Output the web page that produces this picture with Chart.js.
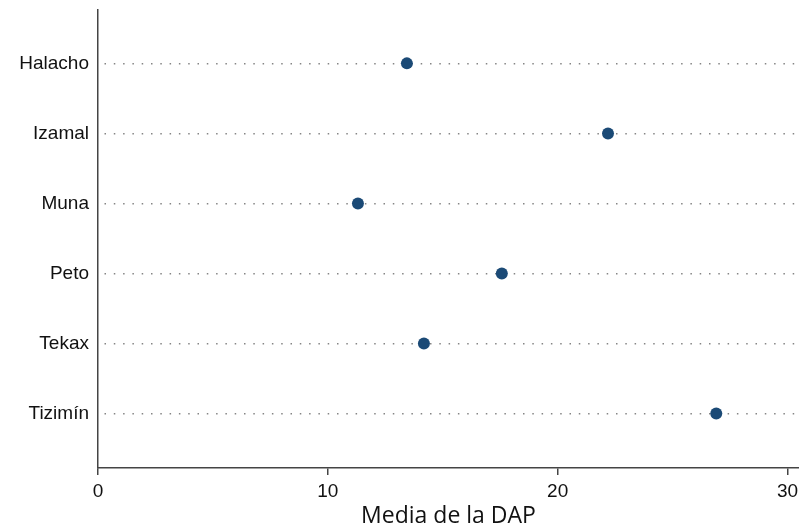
<!DOCTYPE html>
<html>
<head>
<meta charset="utf-8">
<script src="https://cdn.jsdelivr.net/npm/chart.js@4/dist/chart.umd.min.js"></script>
<style>
  html, body { margin: 0; padding: 0; background: #fff; }
  #wrap { width: 799px; height: 523px; }
</style>
</head>
<body>
<div id="wrap"><canvas id="dotChart"></canvas></div>
<script>
// municipios, top to bottom
var labels = ["Halacho", "Izamal", "Muna", "Peto", "Tekax", "Tizimín"];
// media de la DAP per municipio
var meanDap = [13.44, 22.19, 11.31, 17.57, 14.18, 26.9];
var xTicks = [0, 10, 20, 30];

var points = labels.map(function (name, i) {
    return { x: meanDap[i], y: i + 1 };
});

const ctx = document.getElementById('dotChart').getContext('2d');

new Chart(ctx, {
    type: 'scatter',
    data: {
        datasets: [{
            data: points,
            backgroundColor: '#1b4a76',
            borderColor: '#1b4a76',
            pointRadius: 6,
            pointHoverRadius: 6,
            borderWidth: 0
        }]
    },
    options: {
        responsive: true,
        maintainAspectRatio: false,
        animation: false,
        layout: { autoPadding: false, padding: { top: 10, right: 0, left: 0, bottom: 0 } },
        plugins: {
            legend: { display: false },
            tooltip: { enabled: false }
        },
        scales: {
            x: {
                type: 'linear',
                min: 0,
                max: 30.5,
                afterBuildTicks: function (scale) {
                    scale.ticks = xTicks.map(function (v) { return { value: v }; });
                },
                afterFit: function (scale) {
                    scale.height = 55;
                    scale.paddingLeft = 0;
                    scale.paddingRight = 0;
                },
                grid: {
                    drawOnChartArea: false,
                    drawTicks: true,
                    tickLength: 7,
                    color: '#444',
                    lineWidth: 1.5
                },
                border: { display: true, color: '#444', width: 1.5 },
                ticks: {
                    padding: 5,
                    color: '#111',
                    font: { family: '"Liberation Sans", Arial, sans-serif', size: 19 }
                },
                title: {
                    display: true,
                    text: 'Media de la DAP',
                    color: '#111',
                    padding: { top: 0, bottom: 0 },
                    font: { family: '"Open Sans", sans-serif', size: 23, lineHeight: 0.6 }
                }
            },
            y: {
                type: 'linear',
                reverse: true,
                min: 0.238,
                max: 6.777,
                afterBuildTicks: function (scale) {
                    scale.ticks = labels.map(function (n, i) { return { value: i + 1 }; });
                },
                afterFit: function (scale) {
                    scale.width = 98;
                    scale.paddingTop = 0;
                    scale.paddingBottom = 0;
                },
                grid: {
                    drawTicks: false,
                    color: '#858585',
                    lineWidth: 1.5
                },
                border: { display: true, color: '#444', width: 1.5, dash: [1.5, 7.8], dashOffset: 3.3 },
                ticks: {
                    padding: 9,
                    color: '#111',
                    font: { family: '"Liberation Sans", Arial, sans-serif', size: 19 },
                    callback: function (value) { return labels[value - 1]; }
                }
            }
        }
    }
});
</script>
</body>
</html>
